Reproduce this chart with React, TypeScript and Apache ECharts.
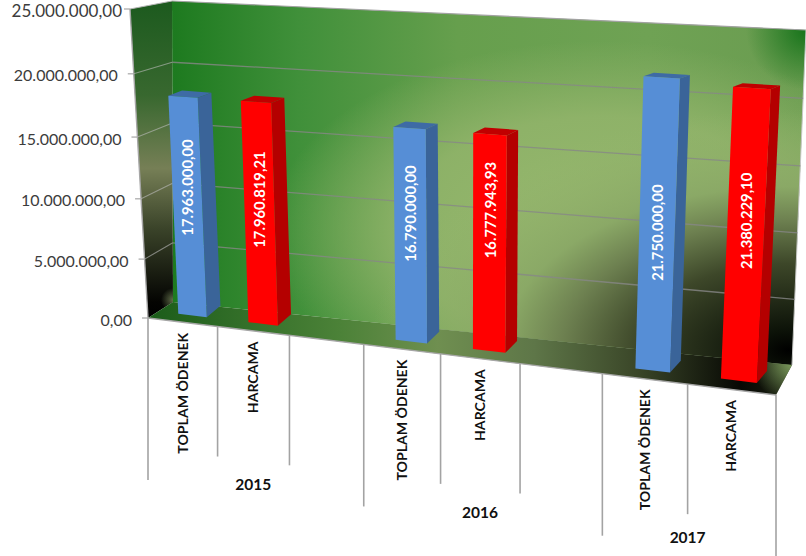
import React, { useEffect, useRef } from "react";
import * as echarts from "echarts";

const slotLabels = ["TOPLAM ÖDENEK", "HARCAMA", "", "TOPLAM ÖDENEK", "HARCAMA", "", "TOPLAM ÖDENEK", "HARCAMA"];
const years = ["2015", "2016", "2017"];
const yearSpans = [[0, 3], [3, 6], [6, 8]];
const budgetSlots = [0, 3, 6];
const spendSlots = [1, 4, 7];
const budgetValues = [17963000, 16790000, 21750000];
const spendValues = [17960819.21, 16777943.93, 21380229.1];
const valueTicks = [0, 5000000, 10000000, 15000000, 20000000, 25000000];
const slotEdges = [0, 1, 2, 3, 4, 5, 6, 7, 8];
const longEdges = [0, 3, 6, 8];

const WIDTH = 806;
const HEIGHT = 556;
const MAX_VALUE = 25000000;

type Pt = [number, number];

// Projective map of the unit square (v = 0 at the bottom) onto a quadrilateral.
function quadMap(bl: Pt, br: Pt, tr: Pt, tl: Pt) {
  const [x0, y0] = bl, [x1, y1] = br, [x2, y2] = tr, [x3, y3] = tl;
  const dx1 = x1 - x2, dx2 = x3 - x2, sx = x0 - x1 + x2 - x3;
  const dy1 = y1 - y2, dy2 = y3 - y2, sy = y0 - y1 + y2 - y3;
  const det = dx1 * dy2 - dx2 * dy1;
  const g = (sx * dy2 - dx2 * sy) / det;
  const h = (dx1 * sy - sx * dy1) / det;
  const a = x1 - x0 + g * x1, b = x3 - x0 + h * x3;
  const d = y1 - y0 + g * y1, e = y3 - y0 + h * y3;
  return (u: number, v: number): Pt => {
    const w = g * u + h * v + 1;
    return [(a * u + b * v + x0) / w, (d * u + e * v + y0) / w];
  };
}

const frontPlane = quadMap([148, 318], [776, 395], [800, 43], [130, 9]);
const wallPlane = quadMap([173, 302], [792, 365], [806, 30], [172, 1]);
const barFront = quadMap([158, 311.4], [783, 386], [801, 38], [143, 5]);
const barBack = quadMap([172, 300], [793, 374], [810, 36], [157, 2.5]);

const BAR_SHARE = 0.41;
const labelLift = [0.585, 0.6, 0.47];
const spendLabelLift = [0.56, 0.65, 0.546];
const LABEL_FONT = "Lato, 'Open Sans', sans-serif";

function formatTr(value: number) {
  const [whole, frac] = value.toFixed(2).split(".");
  return whole.replace(/\B(?=(\d{3})+(?!\d))/g, ".") + "," + frac;
}

const toStops = (stops: [number, string][]) => stops.map(([offset, color]) => ({ offset, color }));
const linear = (x0: number, y0: number, x1: number, y1: number, stops: [number, string][]) =>
  new echarts.graphic.LinearGradient(x0, y0, x1, y1, toStops(stops), true);
const radial = (cx: number, cy: number, r: number, stops: [number, string][]) =>
  new echarts.graphic.RadialGradient(cx, cy, r, toStops(stops), true);
// Relative to the shape's bounding box, which makes the glow elliptical.
const boxRadial = (cx: number, cy: number, r: number, stops: [number, string][]) =>
  new echarts.graphic.RadialGradient(cx, cy, r, toStops(stops), false);

const poly = (points: Pt[], fill: any) => ({ type: "polygon", silent: true, shape: { points }, style: { fill } });
const seg = (a: Pt, b: Pt, stroke: string, lineWidth = 1) => ({
  type: "line", silent: true,
  shape: { x1: a[0], y1: a[1], x2: b[0], y2: b[1] },
  style: { stroke, lineWidth },
});
const label = (x: number, y: number, text: string, font: string, fill: string, align: string, rotation = 0) => ({
  type: "text", silent: true, x, y, rotation,
  style: { text, x: 0, y: 0, font, fill, align, verticalAlign: "middle" },
});

// Side wall, floor and back wall, with their lighting layers.
function renderRoom() {
  const wall: Pt[] = [wallPlane(0, 1), wallPlane(1, 1), wallPlane(1, 0), wallPlane(0, 0)];
  const side: Pt[] = [frontPlane(0, 1), wallPlane(0, 1), wallPlane(0, 0), frontPlane(0, 0)];
  const floor: Pt[] = [frontPlane(0, 0), wallPlane(0, 0), wallPlane(1, 0), frontPlane(1, 0)];
  return {
    type: "group",
    children: [
      poly(wall, linear(172, 0, 806, 0, [
        [0, "#1d7a1f"], [0.2, "#40903a"], [0.45, "#669f4d"], [0.75, "#6fa254"], [1, "#6a9c50"],
      ])),
      poly(wall, radial(806, 30, 60, [[0, "#17741b"], [1, "rgba(23,116,27,0)"]])),
      poly(wall, boxRadial(0.675, 0.63, 0.52, [
        [0, "#98b86f"], [0.6, "rgba(148,181,108,0.85)"], [1, "rgba(148,181,108,0)"],
      ])),
      poly(wall, boxRadial(0.972, 0.959, 0.66, [
        [0, "#000000"], [0.08, "#0c1208"], [0.36, "#3d4729"], [0.54, "#6d8050"],
        [0.68, "rgba(138,168,102,0.95)"], [1, "rgba(148,181,108,0)"],
      ])),
      poly(side, linear(0, 0, 0, 318, [
        [0, "#1c5a1e"], [0.3, "#38682f"], [0.53, "#767f56"], [0.72, "#3a4329"], [0.95, "#040402"], [1, "#000000"],
      ])),
      poly(side, radial(173, 300, 12, [[0, "rgba(118,135,90,0.8)"], [1, "rgba(118,135,90,0)"]])),
      poly(floor, linear(148, 0, 792, 0, [
        [0, "#1b5c1a"], [0.3, "#4c8238"], [0.45, "#6f8f50"], [0.6, "#5e7648"], [0.76, "#3a4628"], [0.92, "#070804"], [1, "#1a2010"],
      ])),
      poly(floor, radial(794, 362, 42, [[0, "#83a562"], [1, "rgba(131,165,98,0)"]])),
      seg(wall[0], wall[1], "#a2a2a2", 1.2),
      seg(wall[1], wall[2], "#c8c8c8", 1),
      seg(wall[0], side[0], "#b5b5b5", 1),
      seg(side[0], side[3], "#a6a6a6", 1.4),
      seg(floor[0], floor[3], "#a6a6a6", 1.4),
    ],
  };
}

// One tick of the value axis: grid lines on both walls, the tick and its label.
function renderValueTick(params: any, api: any) {
  const value = api.value(1);
  const v = 1 - api.coord([0, value])[1] / HEIGHT;
  const f = frontPlane(0, v), b = wallPlane(0, v), e = wallPlane(1, v);
  const isTop = value === MAX_VALUE;
  const children: any[] = [];
  if (value > 0 && !isTop) {
    children.push(seg(f, b, "rgba(190,190,190,0.6)", 1.1));
    children.push(seg(b, e, "rgba(135,135,135,0.8)", 1.3));
  }
  children.push(seg([f[0] - 6, f[1]], f, "#a6a6a6", 1.2));
  children.push(label(f[0] - (isTop ? 8 : 16), f[1] + 1, formatTr(value),
    `${isTop ? 17 : 16}px ${LABEL_FONT}`, "#3c3c3c", "right"));
  return { type: "group", children };
}

// Separator under the floor's front edge.
function renderSlotEdge(params: any, api: any) {
  const edge = api.value(0);
  const p = frontPlane(edge / slotLabels.length, 0);
  const length = longEdges.includes(edge) ? 162 : 130;
  return seg(p, [p[0], p[1] + length], "#a3a3a3", 1.6);
}

function renderSlotLabel(params: any, api: any) {
  const slot = api.value(0);
  const text = slotLabels[slot];
  const p = frontPlane((slot + 0.5) / slotLabels.length, 0);
  return label(p[0] - 0.5, p[1] + 10.5, text, `bold 14.1px ${LABEL_FONT}`, "#111111", "right", Math.PI / 2);
}

function renderYear(params: any, api: any) {
  const i = params.dataIndex;
  const mid = (yearSpans[i][0] + yearSpans[i][1]) / 2;
  const p = frontPlane(mid / slotLabels.length, 0);
  return label(p[0], p[1] + 153, years[i], `bold 15.5px ${LABEL_FONT}`, "#111111", "center");
}

// A bar as three projected faces, sized by the category axis and value axis.
function barRenderer(face: string, sideColor: string, topColor: string, lifts: number[]) {
  return (params: any, api: any) => {
    const slot = api.value(0);
    const value = api.value(1);
    const [cx, py] = api.coord([slot, value]);
    const slotWidth = api.size([1, 0])[0];
    const u0 = (cx - (slotWidth * BAR_SHARE) / 2) / WIDTH;
    const u1 = (cx + (slotWidth * BAR_SHARE) / 2) / WIDTH;
    const v = 1 - py / HEIGHT;
    const fTL = barFront(u0, v), fTR = barFront(u1, v), fBL = barFront(u0, 0), fBR = barFront(u1, 0);
    const bTL = barBack(u0, v), bTR = barBack(u1, v), bBR = barBack(u1, 0);
    const uc = (u0 + u1) / 2;
    const t = barFront(uc, v), bottom = barFront(uc, 0);
    const lift = lifts[params.dataIndex];
    const lx = bottom[0] + (t[0] - bottom[0]) * lift;
    const ly = bottom[1] + (t[1] - bottom[1]) * lift;
    return {
      type: "group",
      children: [
        poly([fTL, fTR, bTR, bTL], topColor),
        poly([fTR, bTR, bBR, fBR], sideColor),
        poly([fTL, fTR, fBR, fBL], face),
        label(lx, ly, formatTr(value), `bold 14.8px ${LABEL_FONT}`, "#ffffff", "center", Math.PI / 2),
      ],
    };
  };
}

const customSeries = (data: any[], renderItem: any, z: number) => ({
  type: "custom", data, renderItem, z, clip: false, silent: true, animation: false,
  encode: { x: 0, y: 1 },
});

export default function App() {
  const ref = useRef<HTMLDivElement>(null);
  useEffect(() => {
    if (!ref.current) return;
    const chart = echarts.init(ref.current, undefined, { renderer: "svg" });
    chart.setOption({
      animation: false,
      backgroundColor: "#ffffff",
      grid: { left: 0, top: 0, width: WIDTH, height: HEIGHT, show: false },
      xAxis: { type: "category", show: false, data: slotLabels },
      yAxis: { type: "value", show: false, min: 0, max: MAX_VALUE, interval: 5000000 },
      series: [
        customSeries([[0, 0]], renderRoom, 1),
        customSeries(valueTicks.map((t) => [0, t]), renderValueTick, 2),
        customSeries(slotEdges.map((e) => [e, 0]), renderSlotEdge, 2),
        customSeries(slotLabels.map((t, i) => [i, 0]).filter(([i]) => slotLabels[i] !== ""), renderSlotLabel, 2),
        customSeries(years.map((y, i) => [i, 0]), renderYear, 2),
        customSeries(budgetValues.map((v, i) => [budgetSlots[i], v]),
          barRenderer("#568ed6", "#3a6499", "#3e6ba5", labelLift), 3),
        customSeries(spendValues.map((v, i) => [spendSlots[i], v]),
          barRenderer("#ff0000", "#b40000", "#c00000", spendLabelLift), 3),
      ],
    });
    return () => chart.dispose();
  }, []);
  return <div ref={ref} style={{ position: "absolute", left: 0, top: 0, width: WIDTH, height: HEIGHT }} />;
}
